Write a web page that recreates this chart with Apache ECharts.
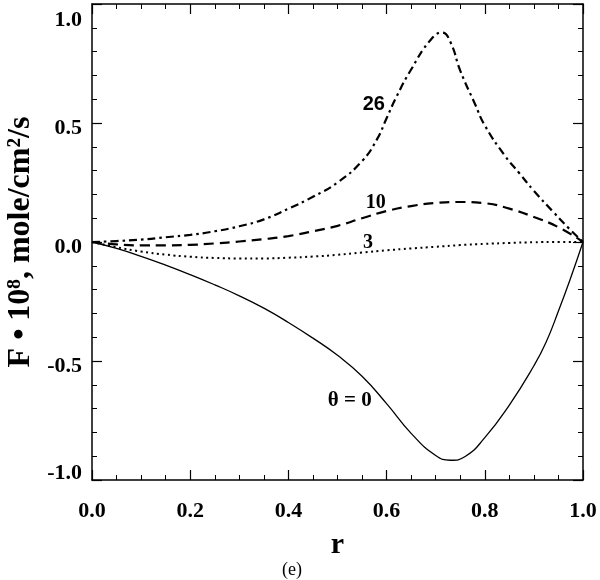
<!DOCTYPE html>
<html>
<head>
<meta charset="utf-8">
<script src="https://cdn.jsdelivr.net/npm/echarts@6/dist/echarts.min.js"></script>
<style>html,body{margin:0;padding:0;background:#fff}#c{width:600px;height:580px}</style>
</head>
<body>
<div id="c"></div>
<script>
// ---- data ----
const r0 = [0, 0.05, 0.1, 0.15, 0.2, 0.25, 0.3, 0.35, 0.4, 0.45, 0.5, 0.55, 0.6, 0.65, 0.7, 0.73, 0.76, 0.8, 0.85, 0.9, 0.925, 0.95, 0.975, 1.0];
const f0 = [0, -0.027, -0.060, -0.097, -0.137, -0.180, -0.226, -0.278, -0.338, -0.404, -0.476, -0.564, -0.679, -0.804, -0.897, -0.917, -0.901, -0.822, -0.685, -0.520, -0.420, -0.290, -0.150, 0];

const r3 = [0, 0.05, 0.1, 0.15, 0.2, 0.25, 0.3, 0.35, 0.4, 0.45, 0.5, 0.55, 0.6, 0.65, 0.7, 0.75, 0.8, 0.85, 0.9, 0.95, 1.0];
const f3 = [0, -0.022, -0.040, -0.053, -0.062, -0.067, -0.069, -0.069, -0.066, -0.061, -0.054, -0.044, -0.035, -0.027, -0.020, -0.013, -0.008, -0.004, -0.001, 0.0, 0];

const r10 = [0, 0.05, 0.1, 0.15, 0.2, 0.25, 0.3, 0.35, 0.4, 0.45, 0.5, 0.55, 0.6, 0.65, 0.7, 0.75, 0.8, 0.85, 0.9, 0.95, 1.0];
const f10 = [0, -0.010, -0.014, -0.014, -0.012, -0.006, 0.002, 0.012, 0.025, 0.045, 0.068, 0.100, 0.130, 0.151, 0.164, 0.168, 0.163, 0.140, 0.105, 0.062, 0];

const r26 = [0, 0.05, 0.1, 0.15, 0.2, 0.25, 0.3, 0.35, 0.4, 0.45, 0.5, 0.55, 0.58, 0.6, 0.62, 0.65, 0.69, 0.713, 0.73, 0.75, 0.78, 0.8, 0.84, 0.87, 0.9, 0.94, 0.97, 1.0];
const f26 = [0, 0.004, 0.010, 0.020, 0.030, 0.045, 0.066, 0.095, 0.140, 0.190, 0.250, 0.340, 0.430, 0.520, 0.610, 0.725, 0.850, 0.880, 0.840, 0.720, 0.580, 0.490, 0.365, 0.290, 0.215, 0.125, 0.060, 0];

const xTicks = [0, 0.2, 0.4, 0.6, 0.8, 1.0];
const yTicks = [-1.0, -0.5, 0.0, 0.5, 1.0];

const curveLabels = ['θ = 0', '3', '10', '26'];
const labelAnchors = [[0.525, -0.668], [0.562, -0.004], [0.578, 0.164], [0.574, 0.576]];

const yName = 'F • 10⁸, mole/cm²/s';
const xName = 'r';
const panel = '(e)';
// ----------------------------------------------

const pairs = (xs, ys) => xs.map((x, i) => [x, ys[i]]);
const SERIF = '"Liberation Serif", "DejaVu Serif", serif';
const SANS = '"Liberation Sans", "DejaVu Sans", sans-serif';

function markLabel(idx, font) {
  return {
    symbol: 'circle', symbolSize: 1, itemStyle: { color: 'rgba(0,0,0,0)' },
    label: { show: true, position: 'inside', formatter: curveLabels[idx], color: '#000',
      fontFamily: font, fontWeight: 'bold', fontSize: idx === 0 ? 21 : 20 },
    data: [{ coord: labelAnchors[idx] }]
  };
}

const axisLineStyle = { show: true, onZero: false, lineStyle: { color: '#000', width: 1.5 } };
const tickCommon = { show: true, inside: true, length: 10, lineStyle: { color: '#000', width: 1.2 } };
const minorCommon = (n) => ({ show: true, splitNumber: n, length: 5, lineStyle: { color: '#000', width: 1 } });

const chart = echarts.init(document.getElementById('c'), null, { renderer: 'canvas' });
chart.setOption({
  animation: false,
  backgroundColor: '#fff',
  grid: { left: 92, right: 17, top: 4, bottom: 100, containLabel: false, outerBoundsMode: 'none' },
  xAxis: [{
    type: 'value', min: 0, max: 1, interval: 0.2, position: 'bottom',
    axisLine: axisLineStyle, axisTick: tickCommon, minorTick: minorCommon(4),
    splitLine: { show: false },
    axisLabel: { margin: 20, color: '#000', fontFamily: SERIF, fontWeight: 'bold', fontSize: 22,
      formatter: v => xTicks.find(t => Math.abs(t - v) < 1e-9).toFixed(1) },
    name: xName, nameLocation: 'middle', nameGap: 50,
    nameTextStyle: { color: '#000', fontFamily: SERIF, fontWeight: 'bold', fontSize: 30 }
  }, {
    type: 'value', min: 0, max: 1, interval: 0.2, position: 'top',
    axisLine: axisLineStyle, axisTick: tickCommon, minorTick: minorCommon(4),
    splitLine: { show: false }, axisLabel: { show: false }
  }],
  yAxis: [{
    type: 'value', min: -1, max: 1, interval: 0.5, position: 'left',
    axisLine: axisLineStyle, axisTick: tickCommon, minorTick: minorCommon(5),
    splitLine: { show: false },
    axisLabel: { margin: 10, color: '#000', fontFamily: SERIF, fontWeight: 'bold', fontSize: 22,
      formatter: v => {
        const t = yTicks.find(t => Math.abs(t - v) < 1e-9);
        const s = t.toFixed(1);
        if (t === 1) return '{t|' + s + '}';
        if (t === -1) return '{b|' + s + '}';
        return '{n|' + s + '}';
      },
      rich: {
        n: { fontFamily: SERIF, fontWeight: 'bold', fontSize: 22, color: '#000', padding: [10, 0, 0, 0] },
        t: { fontFamily: SERIF, fontWeight: 'bold', fontSize: 22, color: '#000', padding: [32, 0, 0, 0] },
        b: { fontFamily: SERIF, fontWeight: 'bold', fontSize: 22, color: '#000', padding: [0, 0, 14, 0] }
      }
    },
    name: yName, nameLocation: 'middle', nameGap: 52, nameRotate: 90,
    nameTextStyle: { color: '#000', fontFamily: SERIF, fontWeight: 'bold', fontSize: 32 }
  }, {
    type: 'value', min: -1, max: 1, interval: 0.5, position: 'right',
    axisLine: axisLineStyle, axisTick: tickCommon, minorTick: minorCommon(5),
    splitLine: { show: false }, axisLabel: { show: false }
  }],
  graphic: [{
    type: 'text', left: 282, top: 561,
    style: { text: panel, fill: '#000', font: '18px ' + SERIF }
  }],
  series: [{
    type: 'line', data: pairs(r0, f0), showSymbol: false, smooth: true,
    lineStyle: { color: '#000', width: 1.3, type: 'solid' },
    markPoint: markLabel(0, SERIF)
  }, {
    type: 'line', data: pairs(r3, f3), showSymbol: false, smooth: true,
    lineStyle: { color: '#000', width: 2, type: [2, 3.5] },
    markPoint: markLabel(1, SERIF)
  }, {
    type: 'line', data: pairs(r10, f10), showSymbol: false, smooth: true,
    lineStyle: { color: '#000', width: 2.2, type: [10, 6] },
    markPoint: markLabel(2, SERIF)
  }, {
    type: 'line', data: pairs(r26, f26), showSymbol: false, smooth: true,
    lineStyle: { color: '#000', width: 2.2, type: [8, 4, 2.5, 4] },
    markPoint: markLabel(3, SANS)
  }]
});
</script>
</body>
</html>
